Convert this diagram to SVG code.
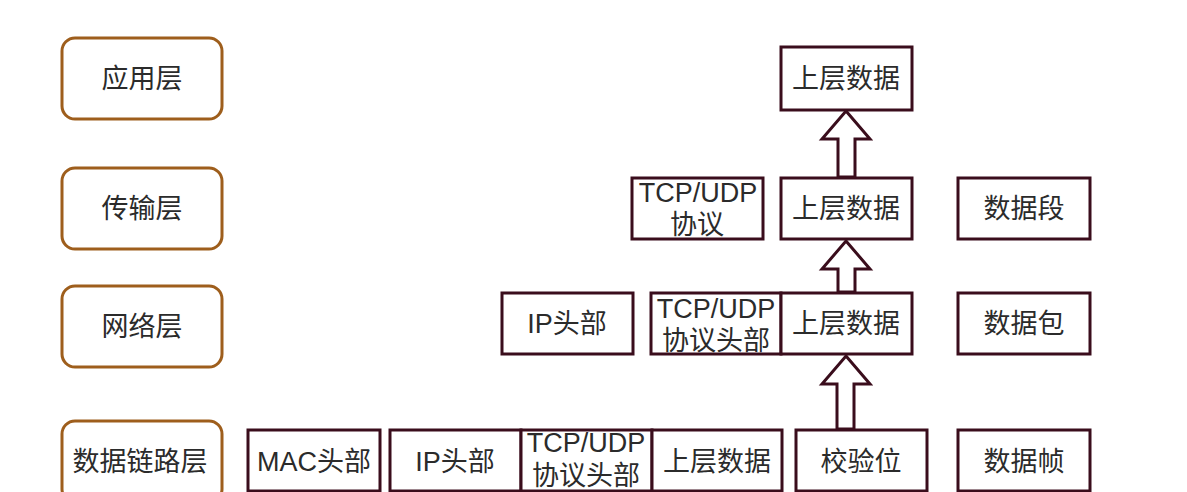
<svg xmlns="http://www.w3.org/2000/svg" width="1187" height="492" viewBox="0 0 1187 492">
<style>
.layer{fill:#fff;stroke:#9e5e1c;stroke-width:3}
.box{fill:#fff;stroke:#3a0d1c;stroke-width:3}
.arrow{fill:#fff;stroke:#3a0d1c;stroke-width:3;stroke-linejoin:miter}
text{font-family:"Liberation Sans","Noto Sans CJK SC",sans-serif;font-size:27px;fill:#2b2b2b;text-anchor:middle}
</style>
<rect width="1187" height="492" fill="#fff"/>
<g id="layer-app"><rect class="layer" x="62" y="38" width="160" height="81" rx="13"/><text x="142" y="88">应用层</text></g>
<g id="layer-transport"><rect class="layer" x="62" y="168" width="160" height="81" rx="13"/><text x="142" y="218">传输层</text></g>
<g id="layer-network"><rect class="layer" x="62" y="286" width="160" height="81" rx="13"/><text x="142" y="336">网络层</text></g>
<g id="layer-link"><rect class="layer" x="62" y="421" width="160" height="81" rx="13"/><text x="140" y="471">数据链路层</text></g>

<g id="app-data"><rect class="box" x="781" y="47" width="131" height="63"/><text x="846" y="88">上层数据</text></g>

<g id="tr-proto"><rect class="box" x="632" y="178" width="131" height="61"/><text x="698" y="202">TCP/UDP</text><text x="697" y="234">协议</text></g>
<g id="tr-data"><rect class="box" x="781" y="178" width="131" height="61"/><text x="846" y="218">上层数据</text></g>
<g id="tr-name"><rect class="box" x="958" y="178" width="132" height="61"/><text x="1024" y="218">数据段</text></g>

<g id="nw-ip"><rect class="box" x="502" y="293" width="131" height="61"/><text x="567" y="333">IP头部</text></g>
<g id="nw-proto"><rect class="box" x="651" y="293" width="130" height="61"/><text x="716" y="318">TCP/UDP</text><text x="716" y="350">协议头部</text></g>
<g id="nw-data"><rect class="box" x="781" y="293" width="131" height="61"/><text x="846" y="333">上层数据</text></g>
<g id="nw-name"><rect class="box" x="958" y="293" width="132" height="61"/><text x="1024" y="333">数据包</text></g>

<g id="ln-mac"><rect class="box" x="248" y="430" width="132" height="61"/><text x="314" y="471">MAC头部</text></g>
<g id="ln-ip"><rect class="box" x="390" y="430" width="131" height="61"/><text x="455" y="471">IP头部</text></g>
<g id="ln-proto"><rect class="box" x="521" y="430" width="131" height="61"/><text x="586" y="452">TCP/UDP</text><text x="586" y="485">协议头部</text></g>
<g id="ln-data"><rect class="box" x="652" y="430" width="130" height="61"/><text x="717" y="471">上层数据</text></g>
<g id="ln-check"><rect class="box" x="796" y="430" width="131" height="61"/><text x="861" y="471">校验位</text></g>
<g id="ln-name"><rect class="box" x="958" y="430" width="132" height="61"/><text x="1024" y="471">数据帧</text></g>

<g id="connectors">
<polygon class="arrow" points="846,111 870,139 855,139 855,177 838,177 838,139 822,139"/>
<polygon class="arrow" points="846,241 870,269 855,269 855,292 838,292 838,269 822,269"/>
<polygon class="arrow" points="846,356 870,384 854,384 854,429 837,429 837,384 822,384"/>
</g>
</svg>
